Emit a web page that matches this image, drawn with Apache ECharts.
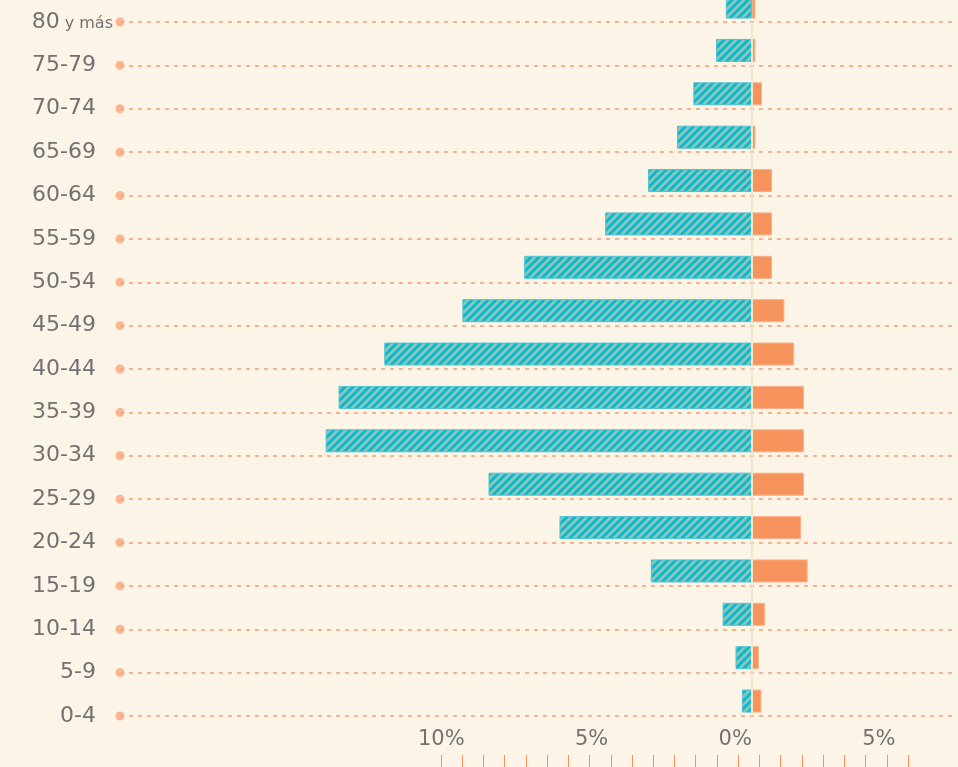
<!DOCTYPE html>
<html>
<head>
<meta charset="utf-8">
<script src="https://cdn.jsdelivr.net/npm/echarts@6/dist/echarts.min.js"></script>
<style>
html,body{margin:0;padding:0;background:#fcf5e7;}
#chart{width:958px;height:767px;}
</style>
</head>
<body>
<div id="chart"></div>
<script>
// Age groups, bottom to top
const categories = ['0-4','5-9','10-14','15-19','20-24','25-29','30-34','35-39','40-44','45-49','50-54','55-59','60-64','65-69','70-74','75-79','80 y más'];
// Share of population (%), left side (hatched teal)
const leftValues = [0.35,0.57,1.02,3.52,6.70,9.17,14.84,14.39,12.80,10.08,7.93,5.11,3.62,2.61,2.04,1.25,0.91];
// Share of population (%), right side (orange)
const rightValues = [0.33,0.24,0.45,1.94,1.71,1.81,1.81,1.81,1.47,1.13,0.70,0.70,0.70,0.12,0.35,0.12,0.12];
// Axis tick labels (%)
const tickLabels = [-10,-5,0,5];
const decoTicks = 22;

const TEAL = '#10b3cd';
const STRIPE = '#84c8b9';
function makePattern(){
  const s = 8;
  const c = document.createElement('canvas');
  c.width = s; c.height = s;
  const g = c.getContext('2d');
  g.fillStyle = TEAL; g.fillRect(0,0,s,s);
  g.strokeStyle = STRIPE; g.lineWidth = 3;
  g.beginPath();
  g.moveTo(-1,s+1); g.lineTo(s+1,-1);
  g.moveTo(-s/2-1,s/2+1); g.lineTo(s/2+1,-s/2-1);
  g.moveTo(s/2-1,s*1.5+1); g.lineTo(s*1.5+1,s/2-1);
  g.stroke();
  return c;
}

const chart = echarts.init(document.getElementById('chart'), null, {renderer:'canvas'});
const gray = '#727272';
chart.setOption({
  backgroundColor: '#fcf5e7',
  animation: false,
  grid: [
    {left:120, right:5, top:22, bottom:51, containLabel:false},
    {left:441, width:467, top:740, bottom:12}
  ],
  xAxis: [
    {
      type:'value', gridIndex:0, min:-22, max:7, interval:1,
      axisLine:{show:false}, axisTick:{show:false}, splitLine:{show:false},
      axisLabel:{
        margin:13, align:'right', color:gray, fontSize:21, fontFamily:'DejaVu Sans',
        showMinLabel:false, showMaxLabel:false,
        formatter: v => tickLabels.indexOf(v) >= 0 ? Math.abs(v) + '%' : ''
      }
    },
    {
      type:'value', gridIndex:1, min:0, max:decoTicks, interval:1,
      axisLine:{show:false}, splitLine:{show:false}, axisLabel:{show:false},
      axisTick:{show:true, length:13, lineStyle:{color:'#f7935a', width:1}}
    }
  ],
  yAxis: [
    {
      type:'category', gridIndex:0, data:categories, boundaryGap:false,
      axisLine:{show:false}, axisTick:{show:false},
      splitLine:{show:true, lineStyle:{color:'#f8b28c', width:2, type:[4,5]}},
      axisLabel:{
        margin:7,
        formatter: v => v === '80 y más' ? '{b|80}{s| y más}' : '{n|' + v + '}',
        rich:{
          n:{fontSize:22, fontFamily:'DejaVu Sans', color:gray, padding:[0,17,0,0]},
          b:{fontSize:22, fontFamily:'DejaVu Sans', color:gray},
          s:{fontSize:16, fontFamily:'DejaVu Sans', color:gray, padding:[3,0,0,0]}
        }
      }
    },
    {type:'value', gridIndex:1, show:false}
  ],
  series: [
    {
      name:'left', type:'bar', stack:'real', data:leftValues.map(v=>-v),
      barWidth:23, barGap:'30%', clip:false,
      itemStyle:{color:{image:makePattern(), repeat:'repeat'}, borderColor:'#4fc3d3', borderWidth:1},
      markLine:{
        silent:true, symbol:'none', label:{show:false},
        lineStyle:{color:'#f1e6c8', width:2, type:'solid'},
        data:[{xAxis:0}]
      }
    },
    {
      name:'right', type:'bar', stack:'real', data:rightValues,
      barWidth:23, barGap:'30%', clip:false,
      itemStyle:{color:'#f7935c', borderColor:'#f9b08a', borderWidth:1}
    },
    {
      name:'placeholder', type:'bar', stack:'ph', data:categories.map(()=>null),
      barWidth:23, barGap:'30%', silent:true
    },
    {
      name:'dots', type:'scatter', symbol:'circle', symbolSize:9, clip:false,
      data: categories.map(c => [-22, c]),
      itemStyle:{color:'#f8a67c'}, z:5
    },
    {
      name:'deco', type:'scatter', xAxisIndex:1, yAxisIndex:1, data:[], silent:true
    }
  ]
});
</script>
</body>
</html>
